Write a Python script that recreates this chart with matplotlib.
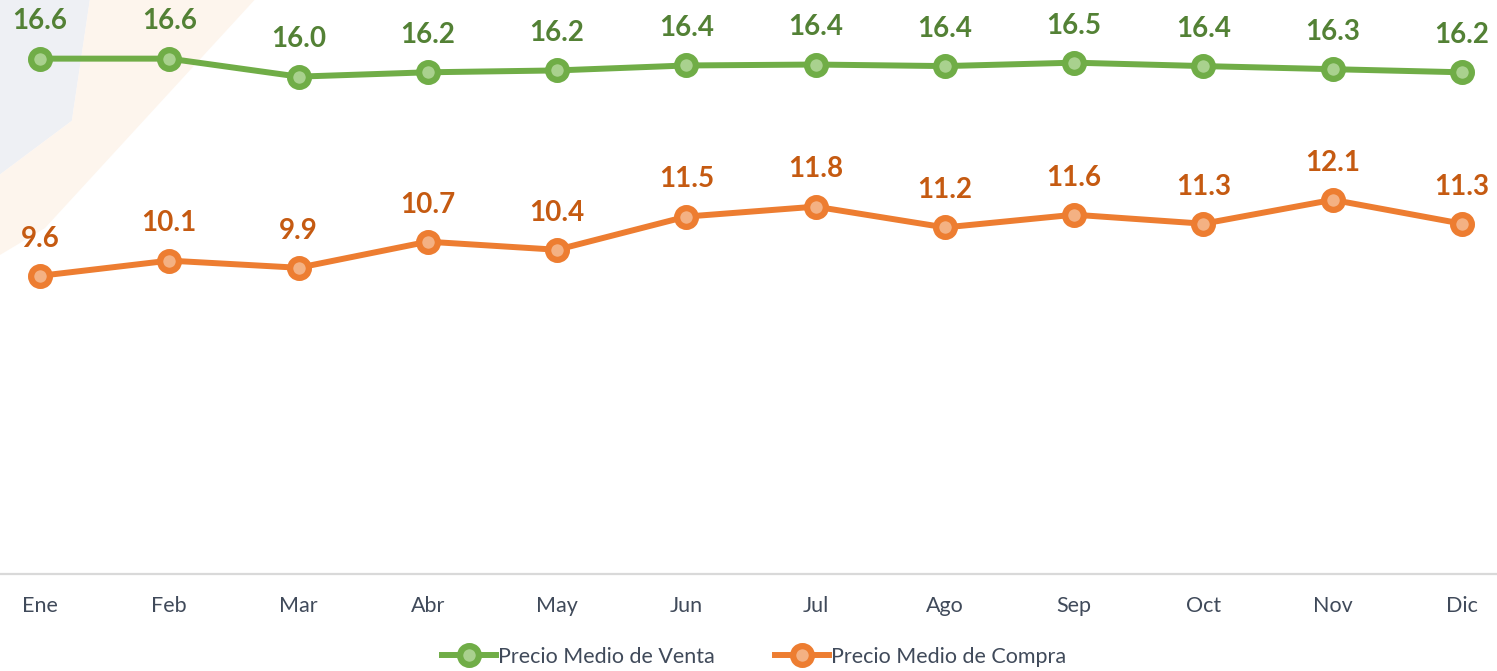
import matplotlib
matplotlib.use('Agg')
from matplotlib import pyplot as plt
from matplotlib.patches import Polygon

meses = ['Ene', 'Feb', 'Mar', 'Abr', 'May', 'Jun', 'Jul', 'Ago', 'Sep', 'Oct', 'Nov', 'Dic']
venta = [16.61, 16.61, 16.03, 16.17, 16.23, 16.39, 16.42, 16.37, 16.48, 16.37, 16.27, 16.17]
compra = [9.61, 10.10, 9.87, 10.71, 10.45, 11.52, 11.84, 11.17, 11.58, 11.29, 12.06, 11.29]

plt.rcParams['font.family'] = ['Lato', 'DejaVu Sans']

fig = plt.figure(figsize=(14.97, 6.71), dpi=100)
ax = fig.add_axes([0, 1 - 574 / 671, 1, 574 / 671])
ax.set_facecolor('none')
ax.set_zorder(2)

# marca de agua suave arriba a la izquierda
fig.patches.append(Polygon([(0, 1), (0.06, 1), (0.048, 0.82), (0, 0.74)], closed=True,
                           transform=fig.transFigure, fc='#E4E7EE', ec='none', alpha=0.6, zorder=-5))
fig.patches.append(Polygon([(0.06, 1), (0.17, 1), (0.03, 0.66), (0, 0.62), (0, 0.74), (0.048, 0.82)],
                           closed=True, transform=fig.transFigure, fc='#FDF1E6', ec='none',
                           alpha=0.7, zorder=-5))

x = list(range(len(meses)))
series = [
    (venta, 'Precio Medio de Venta', '#70AD47', '#A9D18E', '#538135'),
    (compra, 'Precio Medio de Compra', '#ED7D31', '#F4B183', '#C55A11'),
]
for vals, nombre, col, cara, col_txt in series:
    ax.plot(x, vals, color=col, lw=4.3, marker='o', ms=13.5, mew=4.5,
            mec=col, mfc=cara, label=nombre, zorder=3)
    for xi, v in zip(x, vals):
        ax.annotate(f'{v:.1f}', (xi, v), xytext=(0, 21), textcoords='offset points',
                    ha='center', va='baseline', fontsize=20, fontweight='bold',
                    color=col_txt)

ax.set_xlim(-40 / 129.3, 11 + 35 / 129.3)
ax.set_ylim(0, 18.5)
ax.set_xticks(x)
ax.set_xticklabels(meses, fontsize=15.5, color='#404A5A')
ax.tick_params(axis='x', length=0, pad=16)
ax.set_yticks([])
for s in ['top', 'left', 'right']:
    ax.spines[s].set_visible(False)
ax.spines['bottom'].set_color('#D9D9D9')
ax.spines['bottom'].set_linewidth(1.6)

fig.legend(loc='center', bbox_to_anchor=(0.504, 1 - 657 / 671), ncol=2, frameon=False,
           fontsize=15.5, labelcolor='#404A5A', handlelength=2.5, handletextpad=0.1,
           columnspacing=2.8)

fig.savefig('out.png', dpi=100)
